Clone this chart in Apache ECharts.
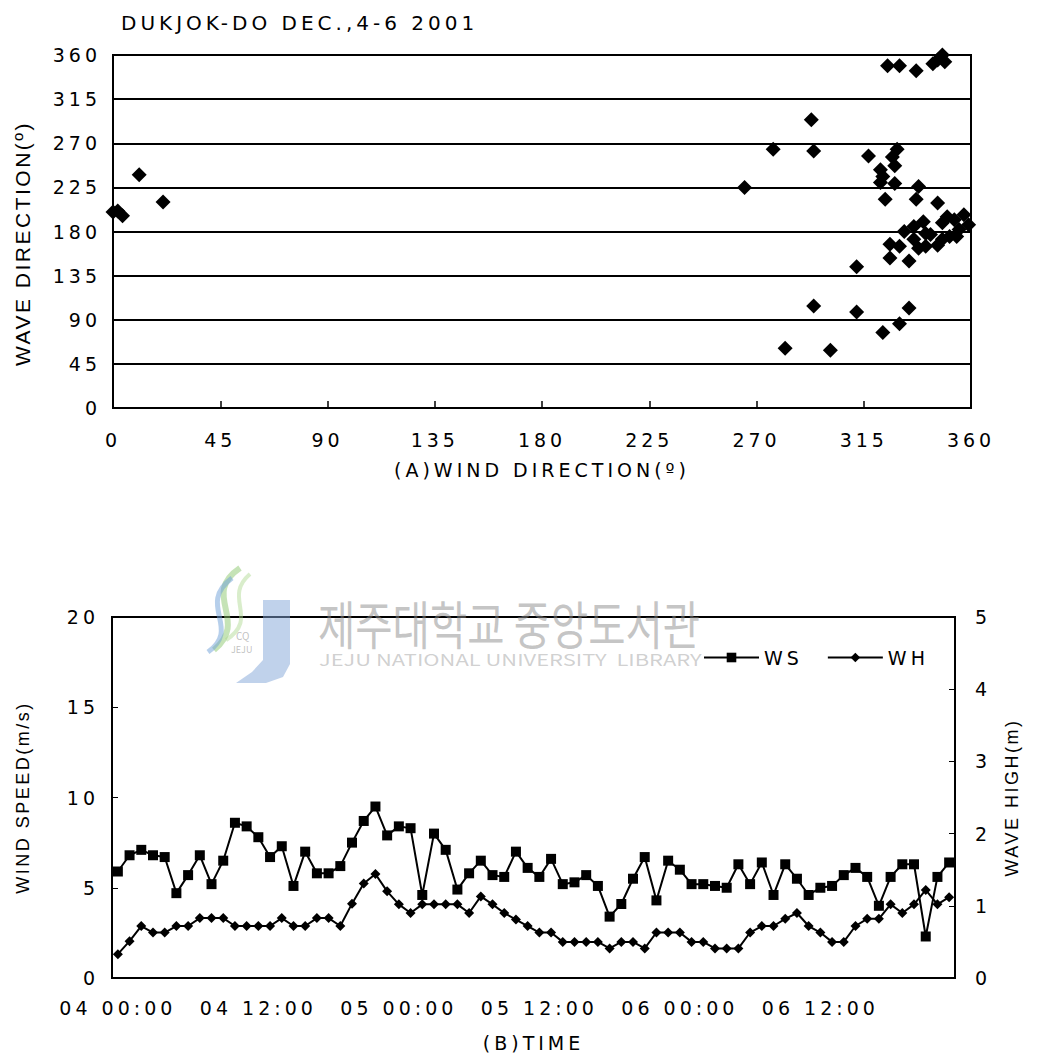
<!DOCTYPE html>
<html><head><meta charset="utf-8">
<style>
html,body{margin:0;padding:0;background:#fff;}
#c{width:1037px;height:1064px;}
#c svg text[style*="DejaVu"], #c svg text[font-family*="DejaVu"]{letter-spacing:4px;}
#c svg text[style*="Liberation"], #c svg text[font-family*="Liberation"]{letter-spacing:2.5px;}
</style>
<script src="https://cdn.jsdelivr.net/npm/echarts@6/dist/echarts.min.js"></script>
</head><body><div id="c"></div><script>
// ---- Data: (A) wind direction vs wave direction ----
const windDir = [0, 2, 4, 11, 21, 265, 277, 293, 294, 282, 294, 301, 312, 312, 317,
  325, 330, 337, 344, 346, 348, 349, 329, 327, 328, 322, 323, 322, 328, 338, 324, 337, 346,
  334, 330, 323, 326, 326, 334, 330, 332, 340, 336, 341, 338, 343, 348, 350, 353, 357, 359,
  355, 351, 348, 346, 354, 341, 336];
const waveDir = [200, 201, 196, 238, 210, 225, 264, 294, 262, 61, 104, 59, 144, 98, 257,
  349, 349, 344, 351, 355, 360, 353, 264, 256, 247, 243, 236, 230, 229, 226, 213, 213, 209,
  102, 86, 77, 167, 153, 150, 165, 180, 190, 172, 165, 163, 177, 189, 195, 192, 197, 187,
  182, 175, 172, 166, 175, 178, 185];

// ---- Data: (B) time series, hourly 04 00:00 .. 06 23:00 ----
const days = ['04', '05', '06'];
const hours = ['00','01','02','03','04','05','06','07','08','09','10','11',
               '12','13','14','15','16','17','18','19','20','21','22','23'];
const windSpeed = [5.9, 6.8, 7.1, 6.8, 6.7, 4.7, 5.7, 6.8, 5.2, 6.5,
  8.6, 8.4, 7.8, 6.7, 7.3, 5.1, 7.0, 5.8, 5.8, 6.2,
  7.5, 8.7, 9.5, 7.9, 8.4, 8.3, 4.6, 8.0, 7.1, 4.9,
  5.8, 6.5, 5.7, 5.6, 7.0, 6.1, 5.6, 6.6, 5.2, 5.3,
  5.7, 5.1, 3.4, 4.1, 5.5, 6.7, 4.3, 6.5, 6.0, 5.2,
  5.2, 5.1, 5.0, 6.3, 5.2, 6.4, 4.6, 6.3, 5.5, 4.6,
  5.0, 5.1, 5.7, 6.1, 5.6, 4.0, 5.6, 6.3, 6.3, 2.3,
  5.6, 6.4];
const waveHeight = [0.33, 0.51, 0.72, 0.63, 0.63, 0.72, 0.72, 0.83, 0.83, 0.83,
  0.72, 0.72, 0.72, 0.72, 0.83, 0.72, 0.72, 0.83, 0.83, 0.72,
  1.03, 1.31, 1.44, 1.2, 1.02, 0.9, 1.02, 1.02, 1.02, 1.02,
  0.9, 1.13, 1.02, 0.9, 0.81, 0.72, 0.63, 0.63, 0.5, 0.5,
  0.5, 0.5, 0.41, 0.5, 0.5, 0.41, 0.63, 0.63, 0.63, 0.5,
  0.5, 0.41, 0.41, 0.41, 0.63, 0.72, 0.72, 0.82, 0.9, 0.72,
  0.63, 0.5, 0.5, 0.72, 0.82, 0.82, 1.02, 0.9, 1.02, 1.22,
  1.02, 1.12];
const timeLabels = [];
days.forEach(d => hours.forEach(h => timeLabels.push(d + ' ' + h + ':00')));

const FONT = 'DejaVu Sans';
const NFONT = 'Liberation Sans';
const black = '#000';
const tickFont = {fontFamily: FONT, fontSize: 19, color: black};

const chart = echarts.init(document.getElementById('c'), null, {renderer: 'svg'});
chart.setOption({
  animation: false,
  backgroundColor: '#fff',
  title: {
    text: 'DUKJOK-DO DEC.,4-6 2001', left: 116, top: 8,
    textStyle: {fontFamily: FONT, fontSize: 20, fontWeight: 'normal', color: black}
  },
  legend: {
    data: ['WS', 'WH'], left: 698, top: 643, itemWidth: 55, itemHeight: 12, itemGap: 32,
    textStyle: {fontFamily: FONT, fontSize: 19, color: black}
  },
  grid: [
    {left: 113, right: 66, top: 55, bottom: 656, show: true, borderColor: black, borderWidth: 2},
    {left: 112, right: 82, top: 617, bottom: 86, show: true, borderColor: black, borderWidth: 2}
  ],
  xAxis: [
    {
      gridIndex: 0, type: 'value', min: 0, max: 360, interval: 45,
      axisLine: {lineStyle: {color: black, width: 2}},
      axisTick: {inside: true, length: 7, lineStyle: {color: black, width: 1.5}},
      axisLabel: Object.assign({margin: 22}, tickFont),
      splitLine: {show: false},
      name: '(A)WIND DIRECTION(º)', nameLocation: 'middle', nameGap: 52,
      nameTextStyle: {fontFamily: FONT, fontSize: 19, color: black}
    },
    {
      gridIndex: 1, type: 'category', data: timeLabels, boundaryGap: true,
      axisLine: {lineStyle: {color: black, width: 2}},
      axisTick: {inside: true, length: 6, interval: 0, lineStyle: {color: black, width: 1}},
      axisLabel: Object.assign({margin: 20, interval: 11}, tickFont),
      splitLine: {show: false},
      name: '(B)TIME', nameLocation: 'middle', nameGap: 55,
      nameTextStyle: {fontFamily: FONT, fontSize: 19, color: black}
    }
  ],
  yAxis: [
    {
      gridIndex: 0, type: 'value', min: 0, max: 360, interval: 45,
      axisLine: {show: true, lineStyle: {color: black, width: 2}},
      axisTick: {show: false},
      axisLabel: Object.assign({margin: 12}, tickFont),
      splitLine: {show: true, lineStyle: {color: black, width: 2}},
      name: 'WAVE DIRECTION(º)', nameLocation: 'middle', nameGap: 80,
      nameTextStyle: {fontFamily: NFONT, fontSize: 21, color: black, padding: [0, 24, 0, 0]}
    },
    {
      gridIndex: 1, type: 'value', min: 0, max: 20, interval: 5,
      axisLine: {show: true, lineStyle: {color: black, width: 2}},
      axisTick: {show: true, inside: true, length: 6, lineStyle: {color: black, width: 1}},
      axisLabel: Object.assign({margin: 13}, tickFont),
      splitLine: {show: false},
      name: 'WIND SPEED(m/s)', nameLocation: 'middle', nameGap: 80,
      nameTextStyle: {fontFamily: NFONT, fontSize: 18, color: black}
    },
    {
      gridIndex: 1, type: 'value', min: 0, max: 5, interval: 1, position: 'right',
      axisLine: {show: true, lineStyle: {color: black, width: 2}},
      axisTick: {show: true, inside: true, length: 6, lineStyle: {color: black, width: 1}},
      axisLabel: Object.assign({margin: 20}, tickFont),
      splitLine: {show: false},
      name: 'WAVE HIGH(m)', nameLocation: 'middle', nameGap: 48, nameRotate: 90,
      nameTextStyle: {fontFamily: NFONT, fontSize: 18, color: black}
    }
  ],
  series: [
    {
      type: 'scatter', xAxisIndex: 0, yAxisIndex: 0,
      data: windDir.map((w, i) => [w, waveDir[i]]),
      symbol: 'diamond', symbolSize: 15, itemStyle: {color: black, opacity: 1}
    },
    {
      name: 'WS', type: 'line', xAxisIndex: 1, yAxisIndex: 1, data: windSpeed,
      symbol: 'rect', symbolSize: 10, showAllSymbol: true,
      lineStyle: {color: black, width: 2}, itemStyle: {color: black}
    },
    {
      name: 'WH', type: 'line', xAxisIndex: 1, yAxisIndex: 2, data: waveHeight,
      symbol: 'diamond', symbolSize: 10, showAllSymbol: true,
      lineStyle: {color: black, width: 2}, itemStyle: {color: black}
    }
  ],
  graphic: [
    {type: 'bezierCurve', z: 100, shape: {x1: 240, y1: 568, x2: 214, y2: 650, cpx1: 200, cpy1: 595, cpx2: 250, cpy2: 620},
      style: {stroke: 'rgba(140,200,110,0.5)', lineWidth: 6, fill: null}},
    {type: 'bezierCurve', z: 100, shape: {x1: 232, y1: 578, x2: 208, y2: 652, cpx1: 196, cpy1: 605, cpx2: 242, cpy2: 628},
      style: {stroke: 'rgba(110,160,215,0.5)', lineWidth: 5, fill: null}},
    {type: 'bezierCurve', z: 100, shape: {x1: 250, y1: 574, x2: 226, y2: 640, cpx1: 222, cpy1: 598, cpx2: 260, cpy2: 618},
      style: {stroke: 'rgba(170,215,140,0.45)', lineWidth: 4, fill: null}},
    {type: 'polygon', z: 100, shape: {points: [[263, 600], [290, 600], [290, 664], [283, 677], [266, 683], [236, 683], [252, 672], [263, 660]]},
      style: {fill: 'rgba(130,165,215,0.5)'}},
    {type: 'text', z: 100, x: 236, y: 630, style: {text: 'CQ', fontSize: 10, fontFamily: 'Noto Sans CJK KR', fill: 'rgba(150,150,150,0.6)'}},
    {type: 'text', z: 100, x: 231, y: 645, style: {text: 'JEJU', fontSize: 9, fontFamily: 'Noto Sans CJK KR', fill: 'rgba(150,150,150,0.6)'}},
    {type: 'text', z: 100, x: 318, y: 596, scaleX: 0.78,
      style: {text: '제주대학교 중앙도서관', fontSize: 52, fontFamily: 'Noto Sans CJK KR', fill: 'rgba(140,140,140,0.5)', align: 'left', verticalAlign: 'top'}},
    {type: 'text', z: 100, x: 319, y: 651, scaleX: 1.37,
      style: {text: 'JEJU NATIONAL UNIVERSITY  LIBRARY', fontSize: 16, fontFamily: 'Noto Sans CJK KR', fill: 'rgba(150,150,150,0.45)', align: 'left', verticalAlign: 'top'}}
  ]
});
</script></body></html>
